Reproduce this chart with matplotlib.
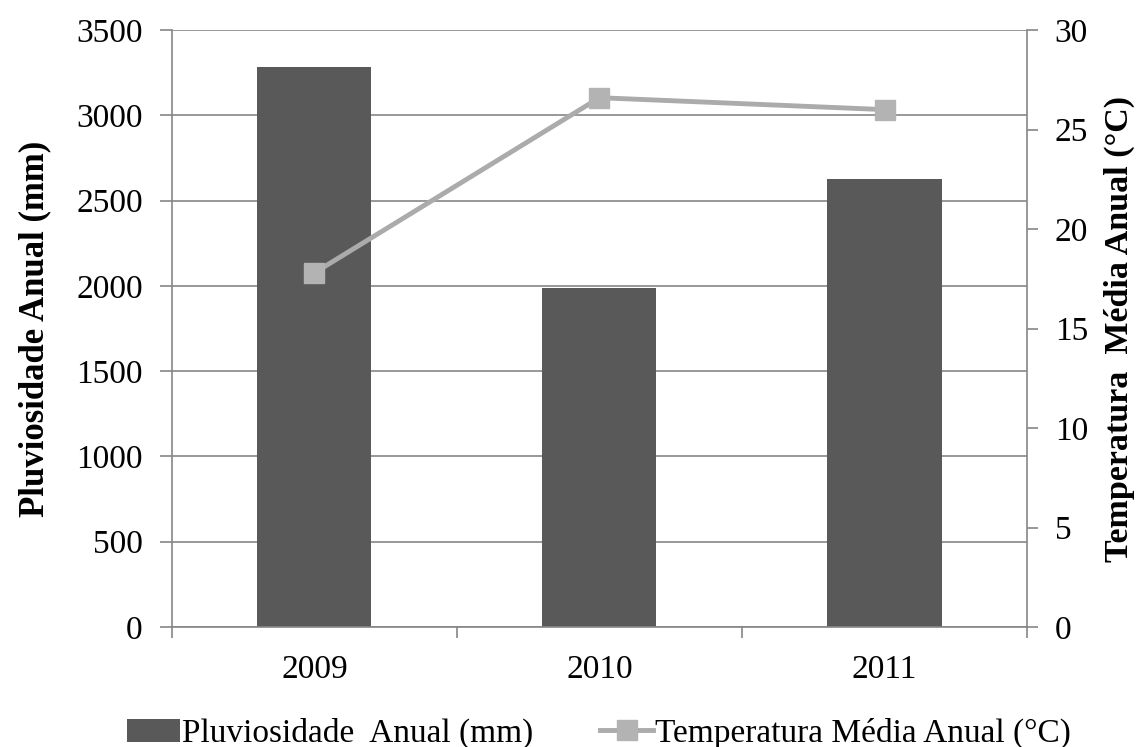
import matplotlib
matplotlib.use("Agg")
import matplotlib.pyplot as plt
import numpy as np
from matplotlib.lines import Line2D
from matplotlib.patches import Patch

years = ["2009", "2010", "2011"]
rain_mm = [3285, 1987, 2625]
temp_c = [17.8, 26.6, 26.0]
left_ticks = [0, 500, 1000, 1500, 2000, 2500, 3000, 3500]
right_ticks = [0, 5, 10, 15, 20, 25, 30]

plt.rcParams['font.family'] = ['Liberation Serif', 'DejaVu Serif']

fig = plt.figure(figsize=(11.41, 7.47), dpi=100)
ax = fig.add_axes([0.1507, 0.1606, 0.9001 - 0.1507, 0.9598 - 0.1606])
grid_c = '#868686'
x = np.arange(len(years))
ax.bar(x, rain_mm, width=0.4, color='#595959', zorder=2)
ax.set_xlim(-0.5, 2.5)
ax.set_ylim(0, 3500)
ax.set_yticks(left_ticks)
ax.set_yticklabels([str(t) for t in left_ticks])
ax.yaxis.grid(True, color=grid_c, linewidth=1.2, zorder=0)
ax.set_axisbelow(True)
ax.set_xticks(x)
ax.set_xticklabels(years)
ax.set_xticks([-0.5, 0.5, 1.5, 2.5], minor=True)
ax.tick_params(axis='x', which='major', length=0, pad=20, labelsize=24)
ax.tick_params(axis='x', which='minor', length=8, color=grid_c, width=1.2)
ax.tick_params(axis='y', length=9, color=grid_c, width=1.2, labelsize=24, pad=12)
for s in ['top', 'right']:
    ax.spines[s].set_visible(False)
for s in ['left', 'bottom']:
    ax.spines[s].set_color(grid_c)
    ax.spines[s].set_linewidth(1.2)
ax.set_ylabel('Pluviosidade Anual (mm)', fontsize=25, fontweight='bold', labelpad=18)

ax2 = ax.twinx()
ax2.plot(x, temp_c, color='#ababab', linewidth=3.5, marker='s', markersize=15,
         markerfacecolor='#b3b3b3', markeredgecolor='#b3b3b3', zorder=3)
ax2.set_ylim(0, 30)
ax2.set_yticks(right_ticks)
ax2.set_yticklabels([str(t) for t in right_ticks])
ax2.tick_params(axis='y', length=8, color=grid_c, width=1.2, labelsize=24, pad=12)
for s in ['top', 'left', 'bottom']:
    ax2.spines[s].set_visible(False)
ax2.spines['right'].set_color(grid_c)
ax2.spines['right'].set_linewidth(1.2)
ax2.set_ylabel('Temperatura  Média Anual (°C)', fontsize=24.5, fontweight='bold', labelpad=11)

handles = [Patch(facecolor='#595959', edgecolor='none'),
           Line2D([0], [0], color='#ababab', linewidth=3.5, marker='s', markersize=14,
                  markerfacecolor='#b3b3b3', markeredgecolor='#b3b3b3')]
fig.legend(handles, ['Pluviosidade  Anual (mm)', 'Temperatura Média Anual (°C)'],
           loc='center', bbox_to_anchor=(0.525, 0.018), ncol=2, frameon=False,
           fontsize=24, handlelength=1.6, handletextpad=0.05, columnspacing=2.0)

fig.savefig('out.png', dpi=100)
